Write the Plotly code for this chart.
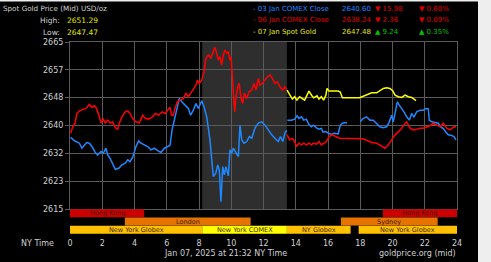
import plotly.graph_objects as go

# ---------------- data (NY time in hours, price USD/oz) ----------------
blue_day_a = [[0.04,2636.5],[0.2,2635.7],[0.37,2635.2],[0.58,2634.7],[0.74,2633.2],[0.89,2634.2],[1.03,2634.9],[1.2,2634.7],[1.36,2633.7],[1.57,2631.9],[1.72,2631.2],[1.92,2632.2],[2.07,2631.7],[2.23,2633.2],[2.34,2631.2],[2.48,2630.2],[2.65,2628.2],[2.81,2626.9],[3.02,2627.2],[3.22,2628.2],[3.43,2628.7],[3.58,2629.7],[3.72,2629.2],[3.89,2630.5],[4.09,2633.7],[4.26,2635.4],[4.4,2634.7],[4.61,2634.2],[4.82,2633.7],[5.02,2632.7],[5.23,2633.2],[5.44,2632.5],[5.64,2631.9],[5.85,2633.2],[6.06,2633.7],[6.2,2634.0],[6.33,2638.7],[6.47,2641.6],[6.62,2645.6],[6.78,2648.1],[6.93,2647.1],[7.13,2646.1],[7.34,2645.1],[7.48,2643.1],[7.65,2644.6],[7.81,2646.6],[7.96,2645.1],[8.17,2647.4],[8.31,2645.6],[8.48,2642.6],[8.58,2639.6],[8.68,2635.7],[8.79,2629.7],[8.89,2624.7],[9.04,2625.7],[9.16,2628.2],[9.26,2626.7],[9.36,2617.2],[9.47,2627.7],[9.57,2625.2],[9.67,2627.7],[9.82,2624.9],[9.92,2632.7],[10.03,2631.7],[10.13,2633.2],[10.27,2632.2],[10.44,2630.7],[10.54,2640.1],[10.65,2635.7],[10.79,2634.7],[10.96,2635.2],[11.12,2636.7],[11.27,2636.2],[11.47,2639.2],[11.68,2640.7],[11.89,2641.1],[12.09,2640.1],[12.3,2638.7],[12.51,2637.2],[12.71,2636.2],[12.92,2635.2],[13.05,2636.7],[13.19,2635.2],[13.33,2637.7],[13.44,2638.5]]

blue_day_b = [[13.48,2641.6],[13.73,2641.6],[13.93,2641.9],[14.08,2642.9],[14.2,2642.1],[14.36,2642.6],[14.49,2641.6],[14.66,2641.9],[14.82,2640.3],[14.97,2639.6],[15.11,2640.1],[15.28,2639.3],[15.44,2638.9],[15.59,2639.1],[15.69,2638.0],[15.87,2638.2],[16.0,2637.7],[16.2,2637.4],[16.41,2637.7],[16.62,2637.4],[16.77,2640.1],[16.89,2640.7],[17.04,2640.8],[17.18,2640.8],[17.5,None],[18.0,2641.1],[18.17,2642.1],[18.38,2642.6],[18.6,2641.6],[18.81,2641.6],[19.02,2640.7],[19.22,2639.6],[19.43,2639.3],[19.64,2639.6],[19.8,2641.1],[19.95,2643.1],[20.05,2641.1],[20.16,2644.1],[20.3,2647.1],[20.42,2646.1],[20.57,2645.1],[20.71,2644.1],[20.88,2642.6],[21.04,2641.6],[21.19,2643.6],[21.33,2642.6],[21.5,2644.1],[21.71,2644.6],[21.91,2644.6],[22.08,2645.1],[22.22,2645.0],[22.28,2641.6],[22.43,2641.1],[22.64,2640.9],[22.84,2640.7],[22.99,2639.6],[23.15,2639.1],[23.32,2638.0],[23.46,2637.2],[23.67,2637.0],[23.81,2636.7],[23.94,2635.7]]

red_day_a = [[0.04,2637.7],[0.17,2639.6],[0.31,2640.7],[0.43,2643.6],[0.58,2644.4],[0.79,2644.8],[0.99,2645.1],[1.2,2646.3],[1.36,2645.4],[1.51,2645.9],[1.65,2645.1],[1.82,2642.6],[1.92,2640.8],[2.07,2641.9],[2.19,2640.8],[2.34,2641.6],[2.48,2640.7],[2.65,2641.1],[2.81,2639.3],[2.96,2638.9],[3.06,2640.7],[3.22,2642.6],[3.43,2644.1],[3.58,2644.4],[3.72,2643.6],[3.89,2642.1],[4.09,2641.1],[4.3,2640.8],[4.51,2643.1],[4.67,2642.1],[4.88,2641.9],[5.09,2642.5],[5.29,2643.6],[5.5,2643.1],[5.71,2644.1],[5.91,2643.6],[6.06,2644.6],[6.2,2645.5],[6.3,2643.1],[6.41,2643.0],[6.51,2645.1],[6.66,2647.1],[6.82,2647.6],[7.03,2648.1],[7.19,2649.6],[7.34,2648.6],[7.48,2649.6],[7.65,2651.1],[7.81,2652.1],[7.9,2653.6],[8.02,2652.6],[8.17,2653.6],[8.31,2656.1],[8.43,2660.1],[8.58,2661.1],[8.73,2660.1],[8.89,2662.1],[8.99,2663.4],[9.1,2661.6],[9.2,2659.6],[9.3,2660.6],[9.4,2658.1],[9.51,2661.1],[9.61,2662.6],[9.72,2661.6],[9.82,2662.1],[9.92,2659.6],[9.99,2660.6],[10.07,2654.6],[10.13,2649.6],[10.21,2644.1],[10.29,2648.1],[10.4,2651.6],[10.5,2652.6],[10.6,2648.1],[10.71,2646.6],[10.81,2649.6],[10.96,2648.1],[11.1,2650.1],[11.27,2650.6],[11.41,2652.6],[11.54,2650.6],[11.68,2654.1],[11.78,2652.1],[11.93,2652.6],[12.09,2653.6],[12.24,2654.6],[12.4,2655.1],[12.55,2654.1],[12.71,2652.6],[12.86,2653.1],[13.02,2651.6],[13.19,2650.6],[13.33,2651.6],[13.44,2650.8]]

red_day_b = [[13.46,2637.2],[13.62,2635.7],[13.79,2636.2],[13.93,2635.2],[14.04,2633.7],[14.2,2634.7],[14.36,2634.2],[14.49,2634.7],[14.66,2634.2],[14.82,2634.7],[14.97,2634.2],[15.11,2634.7],[15.28,2634.4],[15.44,2635.2],[15.59,2634.2],[15.73,2634.7],[15.9,2635.2],[16.06,2636.7],[16.27,2637.2],[16.48,2636.7],[16.72,2636.2],[18.17,2636.0],[18.4,2635.5],[18.71,2634.9],[19.02,2634.7],[19.33,2633.9],[19.53,2633.2],[19.74,2634.2],[19.95,2635.7],[20.16,2637.2],[20.36,2638.1],[20.57,2639.2],[20.78,2640.7],[20.88,2641.1],[21.09,2639.2],[21.29,2638.7],[21.5,2638.9],[21.71,2639.2],[21.91,2639.2],[22.12,2639.6],[22.33,2639.9],[22.53,2640.7],[22.74,2640.1],[22.95,2639.6],[23.15,2640.7],[23.36,2639.2],[23.57,2638.7],[23.77,2639.5],[23.94,2639.7]]

yellow_today = [[13.46,2650.6],[13.62,2649.1],[13.79,2647.9],[13.93,2648.6],[14.07,2647.6],[14.24,2648.6],[14.4,2648.1],[14.55,2647.6],[14.7,2649.1],[14.82,2650.3],[15.0,2648.9],[15.11,2648.3],[15.32,2648.9],[15.44,2647.9],[15.59,2648.6],[15.73,2647.6],[15.87,2649.1],[15.94,2651.1],[16.06,2650.3],[16.31,2650.3],[16.62,2650.3],[16.76,2650.0],[16.89,2648.3],[17.96,2648.3],[18.4,2649.1],[18.71,2649.8],[19.02,2649.8],[19.22,2650.4],[19.43,2651.1],[19.64,2651.29],[19.84,2651.1],[20.01,2650.4],[20.16,2649.1],[20.36,2648.6],[20.57,2648.4],[20.78,2649.1],[20.98,2648.6],[21.19,2648.4],[21.46,2647.48]]

y_tick_vals = [2615 + k * 50 / 6 for k in range(7)]
y_tick_text = ["2615", "2623", "2632", "2640", "2648", "2657", "2665"]
x_tick_vals = list(range(0, 25, 2))

# sessions: name, start, end, row (2 = top row)
session_names = ["Hong Kong", "Hong Kong", "London", "Sydney", "New York Globex", "New York COMEX", "NY Globex", "New York Globex"]
session_start = [0, 19.4, 3.4, 16.8, 0, 8.2, 13.45, 17.9]
session_end = [4.6, 24, 11.2, 22.8, 8.2, 13.45, 17.4, 24]
session_row = [2, 2, 1, 1, 0, 0, 0, 0]
session_color = ["#cc0000", "#cc0000", "#e67300", "#e67300", "#ffc000", "#ffff00", "#ffc000", "#ffc000"]

comex_shade = [8.2, 13.45]

legend_rows = [
    ["- 03 Jan COMEX Close", "2640.60", "\u25bc 15.98", "\u25bc 0.60%"],
    ["- 06 Jan COMEX Close", "2638.24", "\u25bc 2.36", "\u25bc 0.09%"],
    ["- 07 Jan Spot Gold", "2647.48", "\u25b2 9.24", "\u25b2 0.35%"],
]
legend_colors = ["#1e88ff", "#e00000", "#e6e600"]
change_colors = ["#e00000", "#e00000", "#00c000"]
high_val, low_val = "2651.29", "2647.47"

# ---------------- figure ----------------
FONT = "DejaVu Sans"
W, H = 491, 262
L, R, T, B = 70, 34, 42, 28
PW, PH = W - L - R, H - T - B
GRID = "#5a5a5a"

def px(x):
    return (x - L) / PW

def py(y):
    return (H - B - y) / PH

fig = go.Figure()

def add_line(data, color):
    fig.add_trace(go.Scatter(
        x=[p[0] for p in data], y=[p[1] for p in data], mode="lines",
        line=dict(color=color, width=1.5), connectgaps=False,
        xaxis="x", yaxis="y", hoverinfo="skip", showlegend=False))

add_line(blue_day_a, "#1e88ff")
add_line(blue_day_b, "#1e88ff")
add_line(red_day_a, "#ff0000")
add_line(red_day_b, "#ff0000")
add_line(yellow_today, "#ffff00")

for n, s, e, r, c in zip(session_names, session_start, session_end, session_row, session_color):
    fig.add_trace(go.Bar(x=[e - s], base=[s], y=[r], orientation="h", width=0.96,
                         marker=dict(color=c, line=dict(width=0)),
                         xaxis="x2", yaxis="y2", hoverinfo="skip", showlegend=False))
    fig.add_annotation(x=(s + e) / 2, y=r, xref="x2", yref="y2", text=n, showarrow=False,
                       font=dict(family=FONT, size=6.5, color="#3c1e00"),
                       xanchor="center", yanchor="middle")

split = (H - B - 209) / PH

fig.update_layout(
    width=W, height=H, margin=dict(l=L, r=R, t=T, b=B),
    paper_bgcolor="black", plot_bgcolor="black",
    barmode="overlay",
    font=dict(family=FONT, size=8, color="#d0d0d0"),
    xaxis=dict(domain=[0, 1], range=[0, 24], anchor="y", tickvals=x_tick_vals,
               showticklabels=False, showgrid=True, gridcolor=GRID, gridwidth=1,
               zeroline=False, showline=True, mirror=True, linecolor=GRID, linewidth=1),
    yaxis=dict(domain=[split, 1], range=[2615, 2665], tickvals=y_tick_vals, ticktext=y_tick_text,
               showgrid=True, gridcolor=GRID, zeroline=False, showline=True, mirror=True,
               linecolor=GRID, ticks="outside", ticklen=4, tickcolor=GRID,
               tickfont=dict(family=FONT, size=8, color="#d0d0d0")),
    xaxis2=dict(domain=[0, 1], range=[0, 24], anchor="y2", tickvals=x_tick_vals,
                showgrid=False, zeroline=False, showline=False, ticks="", ticklabelstandoff=3,
                tickfont=dict(family=FONT, size=8, color="#d0d0d0")),
    yaxis2=dict(domain=[0, split], range=[-0.5, 2.5], visible=False, fixedrange=True),
)

fig.add_shape(type="rect", xref="x", yref="y", x0=comex_shade[0], x1=comex_shade[1],
              y0=2615, y1=2665, fillcolor="#2e2e2e", line=dict(width=0), layer="below")

# page edges (light strips)
fig.add_shape(type="rect", xref="paper", yref="paper", x0=px(478), x1=px(W + 5),
              y0=py(H + 5), y1=py(-5), fillcolor="#eeeeee", line=dict(width=0), layer="above")
fig.add_shape(type="rect", xref="paper", yref="paper", x0=px(-5), x1=px(W + 5),
              y0=py(1.5), y1=py(-5), fillcolor="#eeeeee", line=dict(width=0), layer="above")

def ann(text, x, y, color="#d0d0d0", size=8, xanchor="left"):
    fig.add_annotation(x=px(x), y=py(y), xref="paper", yref="paper", text=text, showarrow=False,
                       font=dict(family=FONT, size=size, color=color),
                       xanchor=xanchor, yanchor="middle", xshift=0, yshift=0)

ann("Spot Gold Price (Mid) USD/oz", 1, 8, size=7.2)
ann("High:", 62, 20, size=7.5, xanchor="right")
ann(high_val, 65, 20, size=7.5, color="#e6e600")
ann("Low:", 62, 32, size=7.5, xanchor="right")
ann(low_val, 65, 32, size=7.5, color="#e6e600")

for i, (row, lc, cc) in enumerate(zip(legend_rows, legend_colors, change_colors)):
    yy = 9 + i * 11.5
    ann(row[0], 251, yy, color=lc, size=7)
    ann(row[1], 340, yy, color=lc, size=7)
    ann(row[2], 373, yy, color=cc, size=7)
    ann(row[3], 417, yy, color=cc, size=7)

ann("NY Time", 37, 243, xanchor="center")
ann("Jan 07, 2025 at 21:32 NY Time", 225, 253, xanchor="center")
ann("goldprice.org (mid)", 458, 253, xanchor="right")

fig.write_html("out.html")
